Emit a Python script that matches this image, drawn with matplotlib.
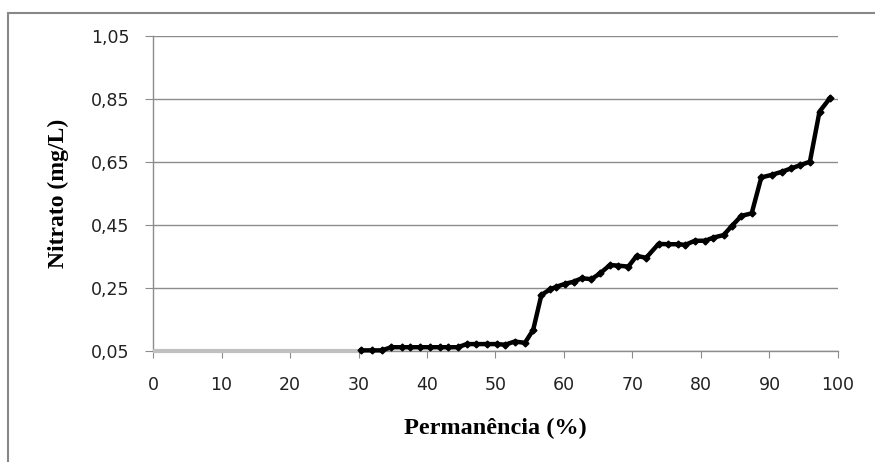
"""
Curva de permanencia - Nitrato
"""
import matplotlib.pyplot as plt
from matplotlib.patches import Rectangle

# Pontos abaixo do limite (cinza) e curva de permanencia (preto)
perm_low = [0.0, 30.4]
nitrato_low = [0.05, 0.05]

permanencia = [30.4, 31.9, 33.4, 34.8, 36.3, 37.5, 39.0, 40.4, 41.9, 43.1,
               44.5, 45.8, 47.2, 48.7, 50.2, 51.4, 52.8, 54.3, 55.5, 56.7,
               58.0, 58.9, 60.1, 61.4, 62.6, 64.0, 65.3, 66.7, 67.9, 69.4,
               70.6, 72.0, 73.8, 75.2, 76.7, 77.7, 79.1, 80.6, 81.8, 83.3,
               84.5, 85.9, 87.4, 88.8, 90.3, 91.8, 93.2, 94.5, 95.9, 97.3,
               98.8]
nitrato = [0.052, 0.052, 0.052, 0.062, 0.062, 0.062, 0.062, 0.062, 0.062, 0.062,
           0.062, 0.072, 0.072, 0.072, 0.072, 0.070, 0.080, 0.076, 0.117, 0.228,
           0.246, 0.254, 0.263, 0.270, 0.281, 0.278, 0.297, 0.323, 0.321, 0.318,
           0.352, 0.346, 0.390, 0.389, 0.389, 0.387, 0.400, 0.400, 0.410, 0.418,
           0.447, 0.479, 0.487, 0.601, 0.609, 0.619, 0.630, 0.640, 0.651, 0.810,
           0.852]

x_ticks = [0, 10, 20, 30, 40, 50, 60, 70, 80, 90, 100]
y_ticks = [0.05, 0.25, 0.45, 0.65, 0.85, 1.05]
y_labels = ['0,05', '0,25', '0,45', '0,65', '0,85', '1,05']

fig = plt.figure(figsize=(8.75, 4.62), dpi=100)
# moldura externa
fig.patches.append(Rectangle((8 / 875, -0.05), 1.1, 1 - 13 / 462 + 0.05,
                             transform=fig.transFigure, fill=False,
                             edgecolor='#888888', linewidth=1.5))

ax = fig.add_axes([153 / 875, 1 - 351 / 462, 685 / 875, 315 / 462])

ax.plot(perm_low, nitrato_low, color='#c0c0c0', linewidth=3, zorder=3,
        solid_capstyle='butt', clip_on=False)
ax.plot(permanencia, nitrato, color='black', linewidth=3.2, marker='D',
        markersize=3.5, zorder=4, clip_on=False)

ax.set_xlim(0, 100)
ax.set_ylim(0.05, 1.05)
ax.set_xticks(x_ticks)
ax.set_yticks(y_ticks)
ax.set_yticklabels(y_labels)
ax.yaxis.grid(True, color='#8c8c8c', linewidth=1)
ax.set_axisbelow(True)

for side in ['top', 'right']:
    ax.spines[side].set_visible(False)
for side in ['left', 'bottom']:
    ax.spines[side].set_color('#8c8c8c')
    ax.spines[side].set_linewidth(1)

ax.tick_params(axis='y', length=6, color='#8c8c8c', pad=11,
               labelsize=12.5, labelcolor='#222222')
ax.tick_params(axis='x', length=5, color='#8c8c8c', pad=13,
               labelsize=12.5, labelcolor='#222222')

ax.set_xlabel('Permanência (%)', fontsize=17.5, fontweight='bold',
              family='Liberation Serif', labelpad=17)
ax.set_ylabel('Nitrato (mg/L)', fontsize=17, fontweight='bold',
              family='Liberation Serif', labelpad=16)

plt.savefig('out.png', dpi=100)
